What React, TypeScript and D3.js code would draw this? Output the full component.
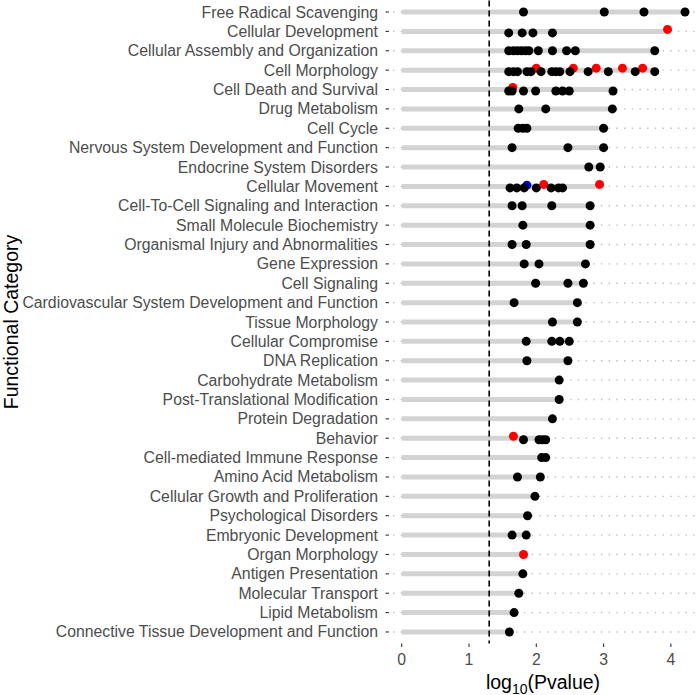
import React from "react";
import * as d3 from "d3";

const categories = [
  "Free Radical Scavenging",
  "Cellular Development",
  "Cellular Assembly and Organization",
  "Cell Morphology",
  "Cell Death and Survival",
  "Drug Metabolism",
  "Cell Cycle",
  "Nervous System Development and Function",
  "Endocrine System Disorders",
  "Cellular Movement",
  "Cell-To-Cell Signaling and Interaction",
  "Small Molecule Biochemistry",
  "Organismal Injury and Abnormalities",
  "Gene Expression",
  "Cell Signaling",
  "Cardiovascular System Development and Function",
  "Tissue Morphology",
  "Cellular Compromise",
  "DNA Replication",
  "Carbohydrate Metabolism",
  "Post-Translational Modification",
  "Protein Degradation",
  "Behavior",
  "Cell-mediated Immune Response",
  "Amino Acid Metabolism",
  "Cellular Growth and Proliferation",
  "Psychological Disorders",
  "Embryonic Development",
  "Organ Morphology",
  "Antigen Presentation",
  "Molecular Transport",
  "Lipid Metabolism",
  "Connective Tissue Development and Function",
];

// black points (log10 p-values) per category
const blackValues: number[][] = [
  [1.81, 3.01, 3.6, 4.21],
  [1.59, 1.79, 1.95, 2.24],
  [1.59, 1.66, 1.72, 1.78, 1.84, 1.89, 2.03, 2.24, 2.45, 2.58, 3.76],
  [1.59, 1.66, 1.72, 1.86, 1.92, 2.07, 2.23, 2.29, 2.35, 2.5, 2.77, 3.07, 3.47, 3.76],
  [1.59, 1.64, 1.81, 1.99, 2.29, 2.39, 2.49, 3.14],
  [1.74, 2.14, 3.13],
  [1.73, 1.8, 1.86, 3.0],
  [1.64, 2.47, 3.0],
  [2.78, 2.95],
  [1.61, 1.71, 1.82, 2.0, 2.22, 2.33, 2.39],
  [1.64, 1.79, 2.23, 2.8],
  [1.8, 2.8],
  [1.64, 1.85, 2.8],
  [1.82, 2.04, 2.73],
  [1.99, 2.47, 2.7],
  [1.67, 2.61],
  [2.24, 2.61],
  [1.85, 2.23, 2.35, 2.49],
  [1.86, 2.47],
  [2.34],
  [2.34],
  [2.24],
  [1.81, 2.04, 2.09, 2.14],
  [2.08, 2.14],
  [1.72, 2.06],
  [1.98],
  [1.87],
  [1.64, 1.85],
  [],
  [1.8],
  [1.74],
  [1.67],
  [1.6],
];

// red points per category
const redValues: number[][] = [
  [], [3.95], [], [2.0, 2.55, 2.89, 3.28, 3.58], [1.65], [], [], [], [], [2.11, 2.94],
  [], [], [], [], [], [], [], [], [], [], [], [], [1.66], [], [], [], [], [], [1.81], [], [], [], [],
];

// blue points per category
const blueValues: number[][] = [
  [], [], [], [], [], [], [], [], [], [1.86],
  [], [], [], [], [], [], [], [], [], [], [], [], [], [], [], [], [], [], [], [], [], [], [],
];

const xTicks = [0, 1, 2, 3, 4];
const threshold = 1.3;

const W = 700;
const H = 695;
const panelLeft = 389;
const panelRight = 697;
const panelTop = 0.4;
const panelBottom = 643.6;

export default function App() {
  const x = d3.scaleLinear().domain([-0.189, 4.388]).range([panelLeft, panelRight]);
  const y = d3
    .scalePoint<string>()
    .domain(categories)
    .range([panelTop, panelBottom])
    .padding(0.6);

  const font = "'Liberation Sans', Arial, Helvetica, sans-serif";

  type Pt = { cat: string; v: number; color: string; dy: number };
  const points: Pt[] = [];
  categories.forEach((c, i) => {
    const hasColor = redValues[i].length + blueValues[i].length > 0 && blackValues[i].length > 0;
    redValues[i].forEach((v) => points.push({ cat: c, v, color: "#FF0000", dy: hasColor ? -2 : 0 }));
    blueValues[i].forEach((v) => points.push({ cat: c, v, color: "#0000CD", dy: hasColor ? -1.2 : 0 }));
  });
  categories.forEach((c, i) => {
    const hasColor = redValues[i].length + blueValues[i].length > 0;
    blackValues[i].forEach((v) => points.push({ cat: c, v, color: "#000000", dy: hasColor ? 1.5 : 0 }));
  });

  const maxes = categories.map((c, i) =>
    d3.max([...blackValues[i], ...redValues[i], ...blueValues[i]]) as number
  );

  const cx = (panelLeft + panelRight) / 2;
  const cy = (panelTop + panelBottom) / 2;

  return (
    <svg width={W} height={H} style={{ display: "block", position: "absolute", left: 0, top: 0 }}>
      <rect x={0} y={0} width={W} height={H} fill="#ffffff" />
      {/* dotted horizontal gridlines */}
      {categories.map((c) => (
        <line
          key={"g" + c}
          x1={panelLeft}
          x2={panelRight}
          y1={y(c)}
          y2={y(c)}
          stroke="#bdbdbd"
          strokeWidth={1.4}
          strokeDasharray="1.4,6.3"
          strokeDashoffset={-4}
        />
      ))}
      {/* grey bars */}
      {categories.map((c, i) => (
        <line
          key={"b" + c}
          x1={x(0)}
          x2={x(maxes[i])}
          y1={y(c)}
          y2={y(c)}
          stroke="#d3d3d3"
          strokeWidth={5}
        />
      ))}
      {/* threshold */}
      <line
        x1={x(threshold)}
        x2={x(threshold)}
        y1={panelTop}
        y2={panelBottom}
        stroke="#000"
        strokeWidth={1.6}
        strokeDasharray="6,4"
      />
      {/* points */}
      {points.map((p, k) => (
        <circle key={"p" + k} cx={x(p.v)} cy={(y(p.cat) as number) + p.dy} r={4.5} fill={p.color} />
      ))}
      {/* y axis ticks & labels */}
      {categories.map((c) => (
        <g key={"yl" + c}>
          <line x1={panelLeft - 3.5} x2={panelLeft} y1={y(c)} y2={y(c)} stroke="#333" strokeWidth={1.1} />
          <text
            x={panelLeft - 11}
            y={(y(c) as number) + 5.5}
            textAnchor="end"
            fontFamily={font}
            fontSize={15.8}
            fill="#4d4d4d"
          >
            {c}
          </text>
        </g>
      ))}
      {/* x axis ticks & labels */}
      {xTicks.map((t) => (
        <g key={"xt" + t}>
          <line x1={x(t)} x2={x(t)} y1={panelBottom} y2={panelBottom + 3.5} stroke="#333" strokeWidth={1.1} />
          <text x={x(t)} y={665} textAnchor="middle" fontFamily={font} fontSize={15.8} fill="#4d4d4d">
            {t}
          </text>
        </g>
      ))}
      {/* axis titles */}
      <text x={cx} y={689} textAnchor="middle" fontFamily={font} fontSize={19.5} fill="#000">
        log
        <tspan fontSize={14} dy={4.5}>10</tspan>
        <tspan dy={-4.5}>(Pvalue)</tspan>
      </text>
      <text
        transform={`translate(${18},${cy}) rotate(-90)`}
        textAnchor="middle"
        fontFamily={font}
        fontSize={19.5}
        fill="#000"
      >
        Functional Category
      </text>
    </svg>
  );
}
